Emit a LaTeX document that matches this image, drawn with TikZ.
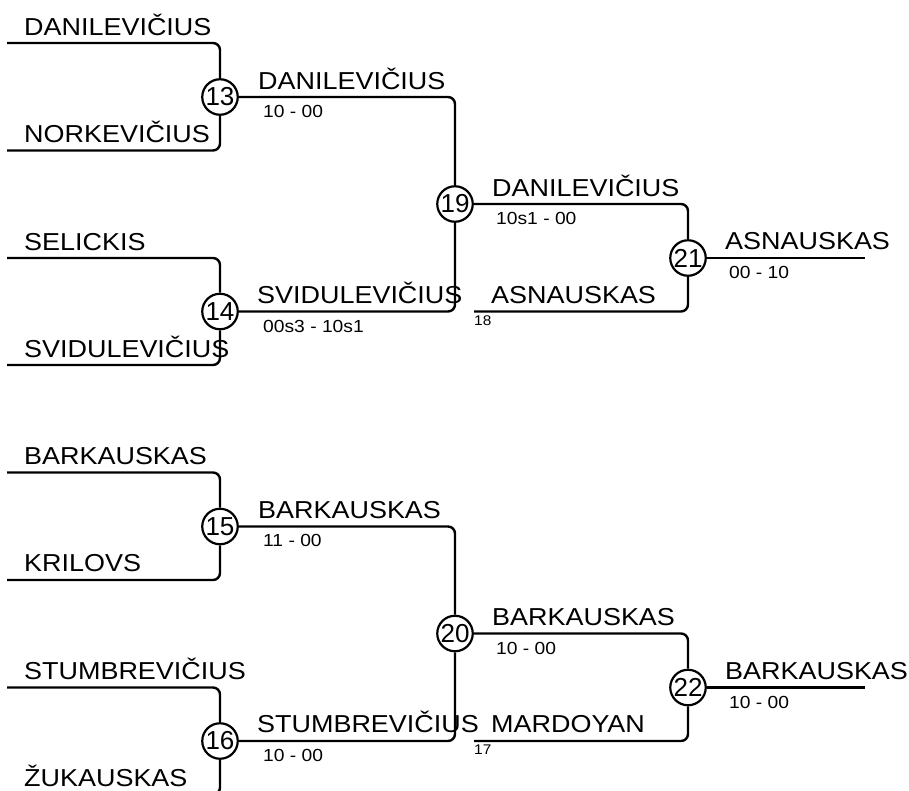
\documentclass[tikz,border=0pt]{standalone}
\usepackage{fontspec}
\setmainfont{Liberation Sans}[FakeStretch=1.1]
\newfontfamily\numfont{Liberation Sans}
\begin{document}
\begin{tikzpicture}[x=1pt,y=-1pt,
  link/.style={draw, line width=2.4pt, rounded corners=7pt},
  match/.style={circle, draw, line width=2.2pt, minimum size=35.5pt, inner sep=0pt, font=\numfont\fontsize{26}{26}\selectfont},
  pname/.style={anchor=base west, inner sep=0pt, font=\fontsize{24.5}{24.5}\selectfont},
  score/.style={anchor=base west, inner sep=0pt, font=\fontsize{17.5}{17.5}\selectfont},
  seed/.style={anchor=base west, inner sep=0pt, font=\fontsize{14}{14}\selectfont}]
\useasboundingbox (0,0) rectangle (909,790);
\clip (0,0) rectangle (909,790);

% match circles
\node[match] (m13) at (220,97) {13};
\node[match] (m14) at (220,311.5) {14};
\node[match] (m15) at (220,526.5) {15};
\node[match] (m16) at (220,741) {16};
\node[match] (m19) at (455,204) {19};
\node[match] (m20) at (455,633.5) {20};
\node[match] (m21) at (688,258) {21};
\node[match] (m22) at (688,687.5) {22};

% free line ends
\coordinate (s1) at (7,43);
\coordinate (s2) at (7,150.5);
\coordinate (s3) at (7,258);
\coordinate (s4) at (7,365);
\coordinate (s5) at (7,472.5);
\coordinate (s6) at (7,580);
\coordinate (s7) at (7,687.5);
\coordinate (s8) at (7,794.5);
\coordinate (q18) at (474,311.5);
\coordinate (q17) at (474,741);
\coordinate (f21) at (865,258);
\coordinate (f22) at (865,687.5);

% connectors
\draw[link] (s1) -| (m13);
\draw[link] (s2) -| (m13);
\draw[link] (s3) -| (m14);
\draw[link] (s4) -| (m14);
\draw[link] (s5) -| (m15);
\draw[link] (s6) -| (m15);
\draw[link] (s7) -| (m16);
\draw[link] (s8) -| (m16);
\draw[link] (m13) -| (m19);
\draw[link] (m14) -| (m19);
\draw[link] (m15) -| (m20);
\draw[link] (m16) -| (m20);
\draw[link] (m19) -| (m21);
\draw[link] (q18) -| (m21);
\draw[link] (m20) -| (m22);
\draw[link] (q17) -| (m22);
\draw[link] (m21) -- (f21);
\draw[link] (m22) -- (f22);

% first round names
\node[pname] (n1) at (24,35) {DANILEVIČIUS};
\node[pname] (n2) at (24,142) {NORKEVIČIUS};
\node[pname] (n3) at (24,250) {SELICKIS};
\node[pname] (n4) at (24,357) {SVIDULEVIČIUS};
\node[pname] (n5) at (24,464.5) {BARKAUSKAS};
\node[pname] (n6) at (24,571.5) {KRILOVS};
\node[pname] (n7) at (24,679) {STUMBREVIČIUS};
\node[pname] (n8) at (24,786) {ŽUKAUSKAS};

% second round
\node[pname] (w13) at (258,89) {DANILEVIČIUS};
\node[score] (r13) at (263,117) {10 - 00};
\node[pname] (w14) at (257,303) {SVIDULEVIČIUS};
\node[score] (r14) at (263,332) {00s3 - 10s1};
\node[pname] (w15) at (258,518.5) {BARKAUSKAS};
\node[score] (r15) at (263,546.5) {11 - 00};
\node[pname] (w16) at (257,732.5) {STUMBREVIČIUS};
\node[score] (r16) at (263,761.5) {10 - 00};

% third round
\node[pname] (w19) at (492,196) {DANILEVIČIUS};
\node[score] (r19) at (496,224.5) {10s1 - 00};
\node[pname] (w18) at (491,303) {ASNAUSKAS};
\node[seed] (t18) at (474,325) {18};
\node[pname] (w20) at (492,625.5) {BARKAUSKAS};
\node[score] (r20) at (496,654) {10 - 00};
\node[pname] (w17) at (491,732.5) {MARDOYAN};
\node[seed] (t17) at (474,754.5) {17};

% finals
\node[pname] (w21) at (725,249.5) {ASNAUSKAS};
\node[score] (r21) at (729,278) {00 - 10};
\node[pname] (w22) at (725,679) {BARKAUSKAS};
\node[score] (r22) at (729,708) {10 - 00};
\end{tikzpicture}
\end{document}
